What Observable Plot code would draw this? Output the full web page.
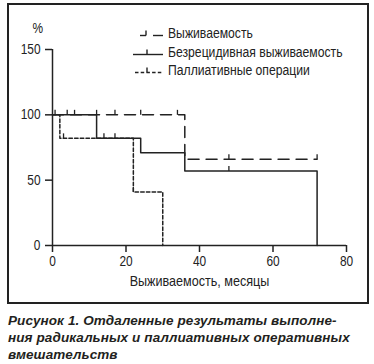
<!DOCTYPE html>
<html><head><meta charset="utf-8">
<script src="https://cdn.jsdelivr.net/npm/d3@7"></script>
<script src="https://cdn.jsdelivr.net/npm/@observablehq/plot@0.6"></script>
<style>
body{margin:0;background:#fff;}
#wrap{position:relative;width:374px;height:364px;overflow:hidden;}
#frame{position:absolute;left:7px;top:3px;width:362px;height:301px;border:2px solid #222;box-sizing:border-box;}
#chart{position:absolute;left:0;top:0;}
#legend{position:absolute;left:132px;top:24px;font-family:"Liberation Sans",Arial,sans-serif;font-size:14px;color:#222;}
.row{height:18.5px;display:flex;align-items:center;white-space:nowrap;}
.row svg{margin-right:4px;flex:none;}
.row span{display:inline-block;transform:scaleX(0.87);transform-origin:0 50%;}
#caption{position:absolute;left:8px;top:312px;font-family:"Liberation Sans",Arial,sans-serif;font-style:italic;font-weight:bold;font-size:13.5px;line-height:17px;color:#231f20;white-space:nowrap;letter-spacing:0.1px;}
</style></head>
<body>
<div id="wrap">
  <div id="frame"></div>
  <div id="chart"></div>
  <div id="legend"></div>
  <div id="caption"></div>
</div>
<script>
// ---- data ----
const seriesNames = ["Выживаемость", "Безрецидивная выживаемость", "Паллиативные операции"];
const survMonths = [0, 36, 72];
const survPct = [100, 66, 66];
const survCensor = [0.7, 4, 6, 12, 17, 24, 34, 48, 72];
const rfsMonths = [0, 12, 24, 36, 72];
const rfsPct = [100, 82, 71, 57, 0];
const rfsCensor = [14, 17, 48];
const palMonths = [0, 2, 22, 30];
const palPct = [100, 82, 41, 0];
const palCensor = [3, 22];
const xTicks = [0, 20, 40, 60, 80];
const yTicks = [0, 50, 100, 150];
const yLabel = "%";
const xLabel = "Выживаемость, месяцы";
const captionLines = [
  "Рисунок 1. Отдаленные результаты выполне-",
  "ния радикальных и паллиативных оперативных",
  "вмешательств"
];

// ---- build tables ----
const toPts = (ms, ps) => ms.map((m, i) => ({m, p: ps[i]}));
const stepAt = (ms, ps, t) => { let v = ps[0]; for (let i = 0; i < ms.length; i++) if (ms[i] <= t) v = ps[i]; return v; };
const censorPts = (cs, ms, ps) => cs.map(t => ({m: t, p: stepAt(ms, ps, t)}));

const ink = "#222";
const tickUp = {draw(ctx, size) { const l = Math.sqrt(size / Math.PI); ctx.moveTo(0, 0); ctx.lineTo(0, -l); }};
const dashes = ["11,7", null, "3.5,2.2"];

const chart = Plot.plot({
  width: 374, height: 306,
  marginLeft: 52, marginRight: 28, marginTop: 49, marginBottom: 61,
  style: {fontFamily: "'Liberation Sans',Arial,sans-serif", fontSize: "14px", color: ink, background: "transparent"},
  x: {domain: [0, 80]},
  y: {domain: [0, 150]},
  marks: [
    Plot.axisX({ticks: xTicks, tickSize: 7, tickPadding: 4, label: null, strokeWidth: 1.5}),
    Plot.axisY({ticks: yTicks, tickSize: 7, tickPadding: 5, label: null, strokeWidth: 1.5}),
    Plot.ruleX([0], {stroke: ink, strokeWidth: 1.5}),
    Plot.ruleY([0], {stroke: ink, strokeWidth: 1.5}),
    Plot.line(toPts(survMonths, survPct), {x: "m", y: "p", curve: "step-after", stroke: ink, strokeWidth: 1.5, strokeDasharray: dashes[0]}),
    Plot.line(toPts(rfsMonths, rfsPct), {x: "m", y: "p", curve: "step-after", stroke: ink, strokeWidth: 1.5}),
    Plot.line(toPts(palMonths, palPct), {x: "m", y: "p", curve: "step-after", stroke: ink, strokeWidth: 1.5, strokeDasharray: dashes[2]}),
    Plot.dot(censorPts(survCensor, survMonths, survPct), {x: "m", y: "p", symbol: tickUp, r: 5, stroke: ink, strokeWidth: 1.3, fill: "none"}),
    Plot.dot(censorPts(rfsCensor, rfsMonths, rfsPct), {x: "m", y: "p", symbol: tickUp, r: 5, stroke: ink, strokeWidth: 1.3, fill: "none"}),
    Plot.dot(censorPts(palCensor, palMonths, palPct), {x: "m", y: "p", symbol: tickUp, r: 5, stroke: ink, strokeWidth: 1.3, fill: "none"}),
    Plot.text([yLabel], {frameAnchor: "top-left", dx: -20, dy: -26, fill: ink}),
    Plot.text([xLabel], {frameAnchor: "bottom", dy: 40, fill: ink, className: "xlabel"})
  ]
});
// narrow the sans-serif text horizontally, as in the condensed face of the original
d3.select(chart).selectAll("text").each(function() {
  const isXLabel = this.textContent === xLabel;
  const t = this.getAttribute("transform") || "";
  this.setAttribute("transform", (t + (isXLabel ? " scale(0.9,1)" : " scale(0.85,1)")).trim());
});
document.getElementById("chart").appendChild(chart);

// ---- legend ----
const legend = d3.select("#legend");
seriesNames.forEach((name, i) => {
  const row = legend.append("div").attr("class", "row");
  const svg = row.append("svg").attr("width", 32).attr("height", 12);
  const y = 8.5;
  if (i === 0) {
    svg.append("line").attr("x1", 8).attr("x2", 14).attr("y1", y).attr("y2", y);
    svg.append("line").attr("x1", 21).attr("x2", 31).attr("y1", y).attr("y2", y);
    svg.append("line").attr("x1", 14).attr("x2", 14).attr("y1", y).attr("y2", y - 5);
  } else {
    svg.append("line").attr("x1", i === 1 ? 1 : 3).attr("x2", 31).attr("y1", y).attr("y2", y)
      .attr("stroke-dasharray", dashes[i]);
    svg.append("line").attr("x1", 15).attr("x2", 15).attr("y1", y).attr("y2", y - 5);
  }
  svg.selectAll("line").attr("stroke", ink).attr("stroke-width", 1.4);
  row.append("span").text(name);
});

// ---- caption ----
d3.select("#caption").selectAll("div").data(captionLines).join("div").text(d => d);
</script>
</body></html>
